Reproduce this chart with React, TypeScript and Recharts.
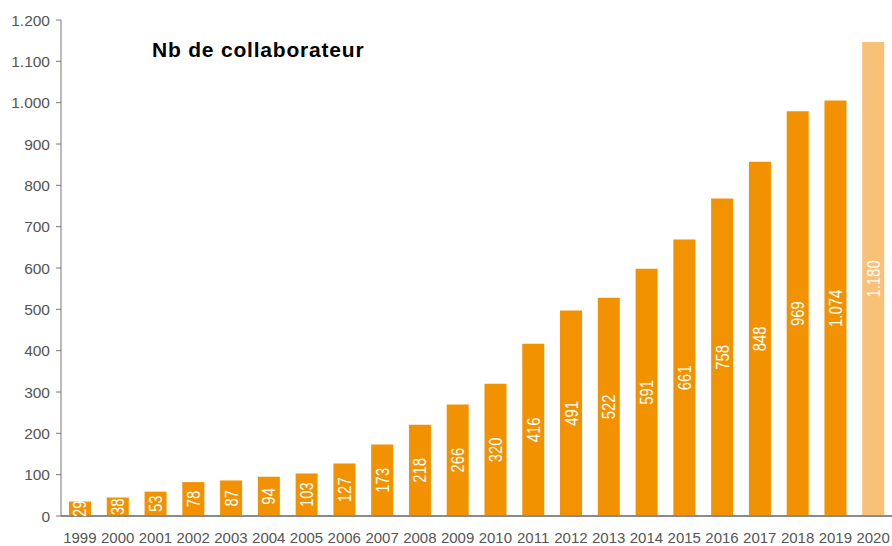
import React from 'react';
import { BarChart, Bar, XAxis, YAxis, Cell, LabelList, Customized } from 'recharts';

const years = ['1999','2000','2001','2002','2003','2004','2005','2006','2007','2008','2009','2010','2011','2012','2013','2014','2015','2016','2017','2018','2019','2020'];
const barValues = [35, 45, 59, 82, 86, 95, 103, 127, 173, 221, 270, 320, 417, 497, 528, 598, 669, 768, 857, 979, 1005, 1147];
const labels = ['29','38','53','78','87','94','103','127','173','218','266','320','416','491','522','591','661','758','848','969','1.074','1.180'];
const yTicks = [0,100,200,300,400,500,600,700,800,900,1000,1100,1200];
const title = 'Nb de collaborateur';

const MAIN = '#F39200';
const LIGHT = '#F9C077';

const data = years.map((y, i) => ({ year: y, value: barValues[i], label: labels[i] }));

const fmt = (v: number) => v >= 1000 ? `${Math.floor(v / 1000)}.${String(v % 1000).padStart(3, '0')}` : String(v);

const BarLabel = (props: any) => {
  const { x, y, width, height, value } = props;
  const cx = x + width / 2;
  const cy = y + height / 2;
  return (
    <text x={0} y={0} transform={`translate(${cx} ${cy}) rotate(-90) scale(0.85 1)`} textAnchor="middle" dominantBaseline="central"
      fill="#fff" fontSize={17.5} fontFamily="'Liberation Sans', Arial, sans-serif">
      {value}
    </text>
  );
};

export default function App() {
  return (
    <div style={{ position: 'absolute', left: 0, top: 0, width: 892, height: 546, background: '#fff' }}>
      <BarChart width={892} height={546} data={data} margin={{ top: 20, right: 0, left: 0, bottom: 0 }} barSize={22}>
        <XAxis dataKey="year" interval={0} tickLine={false} axisLine={{ stroke: '#8a8a8a', strokeWidth: 2 }}
          tick={{ fill: '#555', fontSize: 15, fontFamily: 'Liberation Sans, Arial, sans-serif' }} tickMargin={10} height={30} />
        <YAxis domain={[0, 1200]} ticks={yTicks} interval={0} width={61} tickFormatter={fmt}
          axisLine={{ stroke: '#777' }} tickLine={{ stroke: '#777' }} tickSize={5} tickMargin={6}
          tick={{ fill: '#555', fontSize: 15.5, fontFamily: 'Liberation Sans, Arial, sans-serif' }} />
        <Bar dataKey="value" isAnimationActive={false}>
          {data.map((d, i) => (
            <Cell key={d.year} fill={i === data.length - 1 ? LIGHT : MAIN} />
          ))}
          <LabelList dataKey="label" content={BarLabel} />
        </Bar>
        <Customized component={() => (
          <text x={152} y={57} fontSize={21} fontWeight="bold" letterSpacing={0.8} fill="#000"
            fontFamily="Liberation Sans, Arial, sans-serif">{title}</text>
        )} />
      </BarChart>
    </div>
  );
}
